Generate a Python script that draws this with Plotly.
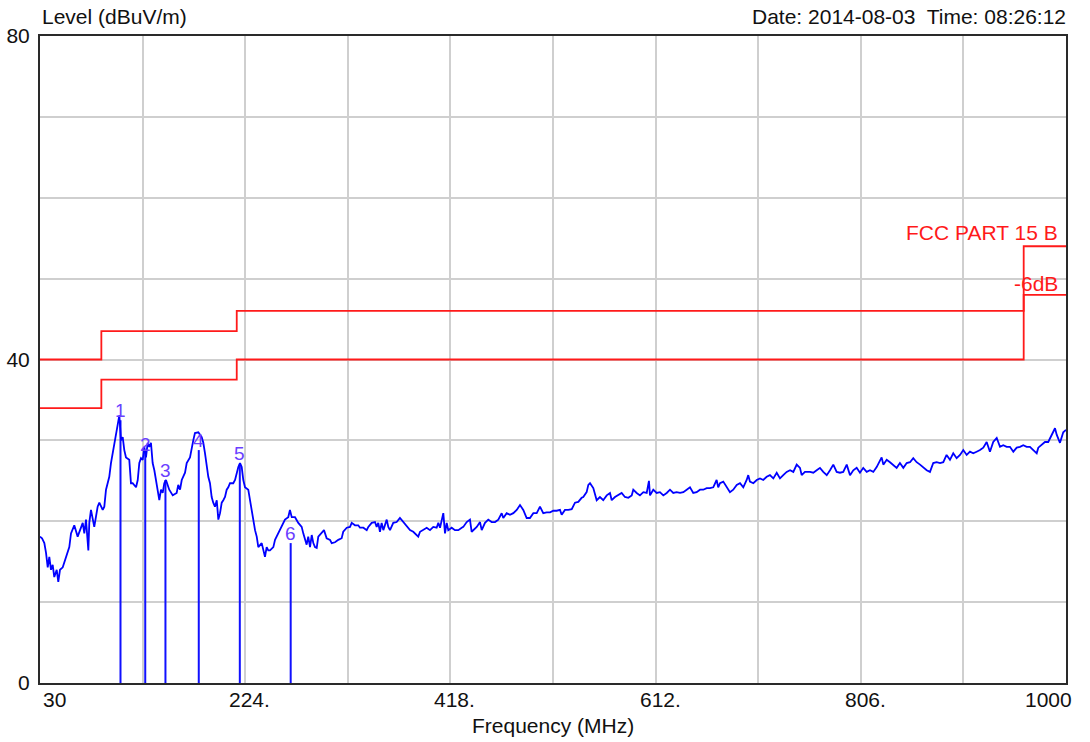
import plotly.graph_objects as go

# ---------------- data ----------------
freq_mhz = [
    30.0, 31.9, 34.1, 35.7, 37.3, 38.8, 40.4, 42.0, 43.5, 45.8, 47.3, 48.9, 51.5, 54.6, 57.7, 59.3,
    62.4, 65.6, 68.8, 70.4, 71.9, 73.5, 75.7, 76.6, 78.2, 81.3, 84.5, 86.1, 89.3, 90.8, 92.4, 94.0,
    95.5, 97.1, 98.7, 100.2, 101.9, 103.5, 105.0, 106.6, 108.2, 109.7, 111.3, 114.4, 116.0, 117.6,
    120.8, 122.4, 123.9, 125.5, 127.1, 128.6, 130.2, 131.8, 133.3, 134.9, 136.5, 138.1, 139.7, 141.3,
    142.8, 144.4, 146.0, 147.5, 149.1, 152.2, 155.5,
    159.2, 160.7, 162.4, 164.0, 167.1, 168.7, 171.8, 173.4, 174.9, 176.5, 179.7, 182.9, 184.4, 186.0,
    187.6, 189.1, 190.7, 192.3, 193.8, 195.4, 197.1, 198.6, 200.2, 201.8, 203.3, 204.9, 206.5, 208.0,
    209.6, 212.7, 214.4, 216.0, 217.5, 219.1, 220.7, 222.2, 223.8, 226.9, 228.5, 230.1, 231.7, 233.3,
    234.9, 236.4, 239.6, 242.7, 244.3, 245.8, 247.4, 250.6, 252.2, 255.3, 258.5, 261.6, 264.7, 266.3,
    268.0, 271.1, 274.2, 277.4, 278.9,
    280.5, 282.1, 283.6, 285.3, 286.9, 288.4, 290.0, 291.6, 293.1, 296.3, 298.5, 301.0, 304.2, 305.8,
    308.9, 312.0, 315.2, 316.7, 320.0, 323.1, 324.7, 327.8, 330.9, 332.5, 335.7, 338.9, 340.4, 343.6,
    346.7, 348.3, 349.8, 351.4, 353.0, 354.6, 356.2, 357.8, 359.3, 360.9, 364.0, 367.2, 370.3, 373.5,
    376.7, 379.8, 382.9, 386.1, 387.6, 389.3, 392.4, 395.6, 398.7, 401.8, 405.0, 406.6, 408.2, 409.8,
    411.3, 412.9, 414.5, 416.0, 419.2, 422.3, 425.5, 428.7, 430.2, 433.4, 436.5, 438.1, 439.6, 442.9,
    446.0, 447.6, 450.7, 453.8, 457.0, 460.2, 463.3, 466.5, 468.0, 471.2, 474.3, 477.5, 480.7, 483.8,
    486.9, 490.1, 493.2, 496.4, 499.6, 502.7, 505.8, 509.0, 512.2,
    515.3, 518.5, 521.6, 523.2, 526.3, 529.5, 532.7, 535.8, 538.9, 542.1, 543.6, 546.8, 548.4, 550.0,
    553.1, 556.3, 559.4, 562.5, 565.8, 568.9, 570.5, 573.6, 576.7, 579.9, 583.0, 586.2, 589.4, 590.9,
    594.1, 597.2, 600.4, 603.6, 605.7, 606.7, 609.8, 613.0, 616.1, 619.3, 622.5, 625.6, 628.7, 631.9,
    635.1, 638.2, 641.4, 644.5, 647.6, 650.8, 654.0, 657.1, 660.3, 663.4, 666.5, 669.7, 671.2, 672.9,
    676.0, 679.2, 682.3, 685.4, 688.7, 691.8, 694.9, 698.1, 699.6, 701.2, 704.4, 707.6, 710.7, 713.8,
    717.0, 720.1, 723.3, 726.5, 729.6, 732.7, 735.9, 739.1, 742.2, 745.4, 748.5, 750.1, 753.2,
    758.0, 761.1, 764.3, 767.4, 770.5, 773.8, 776.9, 780.0, 783.2, 786.3, 789.4, 792.7, 795.8, 798.9,
    802.1, 805.2, 808.3, 811.6, 814.7, 817.8, 821.0, 824.1, 825.7, 827.3, 830.5, 833.6, 836.7, 839.9,
    843.0, 846.2, 849.4, 852.5, 855.6, 858.8, 862.0, 865.1, 868.3, 871.4, 874.5, 877.7, 880.9, 884.0,
    887.1, 890.3, 893.4, 896.6, 899.8, 902.9, 906.1, 909.2, 912.3, 915.5, 918.7, 921.8, 925.0, 928.1,
    931.2, 934.5, 937.6, 940.7, 943.9, 947.0, 950.2, 953.4, 956.5, 959.6, 962.8, 965.9, 969.1, 972.3,
    973.8, 977.0, 980.1, 983.2, 986.4, 989.6, 991.2, 994.3, 997.4, 1000.0,
]
level_dbuv = [
    18.1, 17.9, 17.3, 16.1, 14.3, 15.6, 14.0, 14.6, 13.1, 14.0, 12.5, 14.0, 14.3, 15.6, 16.8, 18.5,
    19.5, 18.1, 19.3, 19.8, 18.5, 20.2, 16.4, 19.8, 21.4, 19.3, 21.8, 22.3, 21.4, 21.8, 23.9, 24.7,
    25.5, 27.2, 28.4, 29.7, 31.3, 32.5, 33.1, 30.0, 30.4, 28.8, 27.9, 27.6, 24.7, 24.7,
    24.2, 25.1, 27.2, 27.8, 27.6, 29.2, 27.9, 29.7, 29.2, 29.7, 27.2, 26.3, 25.1, 23.9,
    22.6, 23.9, 23.5, 24.7, 25.1, 23.9, 23.2,
    23.5, 24.5, 23.9, 25.1, 26.0, 27.2, 27.9, 29.2, 30.0, 30.9, 31.0, 30.4, 29.7, 28.4,
    26.7, 25.5, 24.7, 23.0, 22.3, 21.8, 22.6, 20.2, 21.0, 22.3, 22.6, 23.0, 23.9, 24.2,
    24.7, 24.7, 25.1, 26.1, 26.7, 27.2, 26.7, 25.1, 24.2, 23.9, 22.6, 21.4, 19.8, 18.9,
    18.1, 16.8, 17.3, 15.6, 16.8, 16.4, 16.4, 16.8, 17.7, 18.5, 19.3, 20.2, 20.5, 21.4,
    20.5, 20.5, 19.8, 19.3, 18.5,
    17.7, 17.1, 18.1, 16.8, 18.3, 17.3, 16.8, 16.7, 18.1, 18.5, 18.9, 17.9, 17.7, 17.3,
    17.4, 17.7, 17.9, 18.7, 19.2, 19.3, 19.8, 19.5, 19.5, 19.2, 19.2, 18.9, 19.3, 19.8,
    19.9, 19.3, 19.8, 18.7, 19.8, 18.9, 19.5, 20.2, 19.3, 18.9, 19.8, 19.9, 20.4, 19.9,
    19.3, 18.9, 18.7, 18.3, 18.1, 18.7, 18.9, 19.2, 18.9, 19.3, 19.2, 19.8, 19.2, 20.2,
    21.0, 18.5, 19.8, 18.9, 19.2, 18.9, 18.9, 19.2, 19.3, 19.9, 20.2, 18.7, 18.9, 19.3,
    19.9, 18.9, 19.8, 20.2, 19.9, 19.9, 20.2, 21.0, 20.4, 21.0, 20.8, 21.0, 21.4, 22.0,
    21.4, 20.4, 20.4, 21.0, 21.0, 21.8, 21.0, 21.1, 21.1,
    21.3, 21.3, 21.4, 20.8, 21.4, 21.4, 21.5, 22.3, 22.4, 22.9, 23.0, 23.6, 24.5, 24.7,
    24.1, 22.6, 23.0, 22.6, 23.2, 23.5, 22.6, 23.0, 23.2, 23.5, 23.0, 22.9, 23.2, 23.9,
    23.5, 23.2, 23.6, 23.5, 25.0, 23.2, 23.9, 23.5, 23.6, 23.2, 23.5, 23.9, 23.5, 23.6,
    23.5, 23.6, 23.9, 24.2, 23.5, 23.6, 23.9, 23.9, 24.1, 24.1, 24.2, 25.1, 24.2, 24.7,
    24.9, 24.2, 23.6, 23.9, 24.5, 24.7, 24.2, 25.1, 25.7, 24.9, 24.7, 25.1, 25.3, 25.1,
    25.5, 25.7, 25.3, 26.0, 25.3, 25.7, 26.1, 26.3, 26.1, 27.0, 26.6, 25.7, 26.1,
    26.1, 26.0, 26.3, 26.6, 26.1, 25.7, 26.3, 27.0, 26.1, 26.0, 26.1, 27.0, 25.7, 26.3,
    26.6, 26.0, 26.6, 26.1, 26.3, 26.1, 26.7, 27.6, 27.9, 27.0, 27.6, 27.3, 27.0, 26.6,
    27.2, 26.6, 27.2, 27.3, 27.8, 27.3, 27.0, 26.6, 26.3, 26.1, 27.2, 27.3, 27.2, 27.3,
    28.2, 27.6, 28.4, 27.8, 28.2, 28.8, 28.2, 28.6, 28.4, 28.6, 28.8, 29.1, 29.8, 28.6,
    29.8, 30.3, 29.2, 29.4, 29.2, 29.2, 28.6, 29.1, 29.2, 29.4, 29.2, 29.2, 28.8, 28.4,
    29.1, 29.4, 29.8, 29.8, 30.7, 31.5, 30.7, 29.7, 31.0, 31.3,
]

limit_freq = [30, 88, 216, 960, 1000]
limit_level = [40, 43.5, 46, 54, 54]
margin_db = 6
limit_name = "FCC PART 15 B"
margin_name = "-6dB"

marker_freq = [106.1, 129.5, 148.6, 180.1, 218.9, 267.0]
marker_level = [32.5, 28.3, 25.1, 28.8, 27.1, 17.3]
marker_labels = ["1", "2", "3", "4", "5", "6"]

x_tick_vals = [30, 224, 418, 612, 806, 1000]
x_tick_text = ["30", "224.", "418.", "612.", "806.", "1000"]
y_tick_vals = [0, 40, 80]
y_tick_text = ["0", "40", "80"]

y_title = "Level (dBuV/m)"
x_title = "Frequency (MHz)"
stamp = "Date: 2014-08-03  Time: 08:26:12"

# ---------------- figure ----------------
FONT = "Liberation Sans, Arial, sans-serif"
TXT = "#111111"
fig = go.Figure()

# limit lines
fig.add_trace(go.Scatter(x=limit_freq, y=limit_level, mode="lines",
                         line=dict(color="#ff1a1a", width=1.8, shape="hv"),
                         hoverinfo="skip", showlegend=False))
fig.add_trace(go.Scatter(x=limit_freq, y=[v - margin_db for v in limit_level], mode="lines",
                         line=dict(color="#ff1a1a", width=1.8, shape="hv"),
                         hoverinfo="skip", showlegend=False))

# marker stems
mx, my = [], []
for f, l in zip(marker_freq, marker_level):
    mx += [f, f, None]
    my += [0, l, None]
fig.add_trace(go.Scatter(x=mx, y=my, mode="lines", line=dict(color="#1010ff", width=2),
                         hoverinfo="skip", showlegend=False))

# spectrum trace
fig.add_trace(go.Scatter(x=freq_mhz, y=level_dbuv, mode="lines",
                         line=dict(color="#0000ff", width=1.8), showlegend=False))

ann = []
for f, l, t in zip(marker_freq, marker_level, marker_labels):
    ann.append(dict(x=f, y=l, text=t, showarrow=False, xanchor="center", yanchor="middle",
                    yshift=10, font=dict(family=FONT, size=19, color="#6a40ff")))

for v, t in zip(x_tick_vals, x_tick_text):
    if v == x_tick_vals[0]:
        xa, xs = "left", 1
    elif v == x_tick_vals[-1]:
        xa, xs = "right", 8
    else:
        xa, xs = "left", -18
    ann.append(dict(x=v, y=0, xref="x", yref="paper", text=t, showarrow=False,
                    xanchor=xa, yanchor="top", xshift=xs, yshift=-3,
                    font=dict(family=FONT, size=21, color=TXT)))

ann.append(dict(x=0.5, y=0, xref="paper", yref="paper", text=x_title, showarrow=False,
                xanchor="center", yanchor="top", yshift=-29,
                font=dict(family=FONT, size=21, color=TXT)))
ann.append(dict(x=0, y=1, xref="paper", yref="paper", text=y_title, showarrow=False,
                xanchor="left", yanchor="bottom", yshift=6, xshift=0,
                font=dict(family=FONT, size=21, color=TXT)))
ann.append(dict(x=1, y=1, xref="paper", yref="paper", text=stamp, showarrow=False,
                xanchor="right", yanchor="bottom", yshift=6, xshift=2,
                font=dict(family=FONT, size=21, color=TXT)))
ann.append(dict(x=limit_freq[-1], y=limit_level[-1], xref="x", yref="y", text=limit_name,
                showarrow=False, xanchor="right", yanchor="bottom", xshift=-6, yshift=0,
                font=dict(family=FONT, size=21, color="#ff1a1a")))
ann.append(dict(x=limit_freq[-1], y=limit_level[-1] - margin_db, xref="x", yref="y", text=margin_name,
                showarrow=False, xanchor="right", yanchor="bottom", xshift=-6, yshift=-2,
                font=dict(family=FONT, size=21, color="#ff1a1a")))

fig.update_layout(
    width=1090, height=742,
    margin=dict(l=40, r=24, t=36, b=59, autoexpand=False),
    paper_bgcolor="white", plot_bgcolor="white",
    annotations=ann,
    showlegend=False,
    xaxis=dict(range=[30, 1000], showgrid=False, zeroline=False, automargin=False,
               showline=True, linecolor="#2a2a2a", linewidth=2, mirror=True,
               showticklabels=False, ticks="",
               minor=dict(tick0=30, dtick=97, showgrid=True, gridcolor="#cfcfcf", gridwidth=2)),
    yaxis=dict(range=[0, 80], tickvals=y_tick_vals, ticktext=y_tick_text,
               showgrid=False, zeroline=False, automargin=False,
               showline=True, linecolor="#2a2a2a", linewidth=2, mirror=True,
               ticks="outside", ticklen=4, tickcolor="rgba(0,0,0,0)",
               tickfont=dict(family=FONT, size=21, color=TXT),
               minor=dict(tick0=0, dtick=10, showgrid=True, gridcolor="#cfcfcf", gridwidth=2)),
)

fig.write_html("out.html", config={"displayModeBar": False},
               post_script="document.body.style.margin='0px';document.body.style.overflow='hidden';")
